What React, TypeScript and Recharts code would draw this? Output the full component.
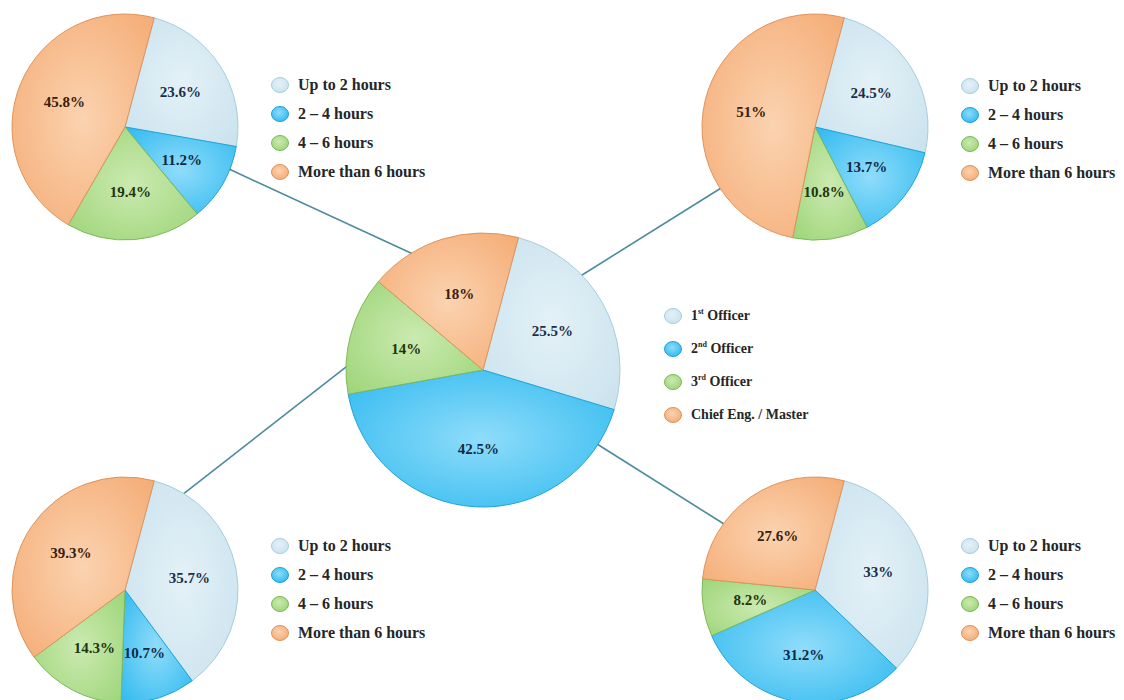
import { PieChart, Pie, Cell } from "recharts";

// categories
const hourCategories = ["Up to 2 hours", "2 – 4 hours", "4 – 6 hours", "More than 6 hours"];
const rankCategories = ["1st Officer", "2nd Officer", "3rd Officer", "Chief Eng. / Master"];

// values (%), same order as the categories
const centerValues = [25.5, 42.5, 14, 18];
const topLeftValues = [23.6, 11.2, 19.4, 45.8];
const topRightValues = [24.5, 13.7, 10.8, 51];
const bottomLeftValues = [35.7, 10.7, 14.3, 39.3];
const bottomRightValues = [33, 31.2, 8.2, 27.6];

const baseColors = ["#cbe3ee", "#36bcf0", "#a0d67c", "#f5ae79"];
const lightColors = ["#e4f1f7", "#8fdcfa", "#cbeab0", "#fbd3b0"];
const strokeColors = ["#a7cddf", "#1fa3d8", "#7cba58", "#df935a"];
const labelColors = ["#18304a", "#102a44", "#22340c", "#3a200c"];

const FONT = "'Liberation Serif', 'Times New Roman', serif";
const RAD = Math.PI / 180;

type PieDef = { id: string; values: number[]; cx: number; cy: number; r: number };

const pies: PieDef[] = [
  { id: "center", values: centerValues, cx: 483, cy: 370, r: 137 },
  { id: "tl", values: topLeftValues, cx: 125, cy: 127, r: 113 },
  { id: "tr", values: topRightValues, cx: 815, cy: 127, r: 113 },
  { id: "bl", values: bottomLeftValues, cx: 125, cy: 590, r: 113 },
  { id: "br", values: bottomRightValues, cx: 815, cy: 590, r: 113 },
];

// connector lines: angle on each circle, clockwise from 12 o'clock
const connectors = [
  { from: 1, a1: 112, a2: 329 },
  { from: 2, a1: 237, a2: 46 },
  { from: 3, a1: 31, a2: 272 },
  { from: 4, a1: 306, a2: 123 },
];

function onCircle(p: PieDef, deg: number, extra = 0) {
  const rr = p.r + extra;
  return { x: p.cx + rr * Math.sin(deg * RAD), y: p.cy - rr * Math.cos(deg * RAD) };
}

const renderLabel = (props: any) => {
  const { cx, cy, midAngle, outerRadius, index } = props;
  const value = props.value ?? props.payload?.value;
  const r = outerRadius * 0.58;
  const x = cx + r * Math.cos(-midAngle * RAD);
  const y = cy + r * Math.sin(-midAngle * RAD);
  return (
    <text
      x={x}
      y={y}
      textAnchor="middle"
      dominantBaseline="central"
      fill={labelColors[index]}
      fontFamily={FONT}
      fontWeight="bold"
      fontSize={15}
    >
      {value}%
    </text>
  );
};

function RankText({ text }: { text: string }) {
  const m = text.match(/^(\d)(st|nd|rd)(.*)$/);
  if (!m) return <>{text}</>;
  return (
    <>
      {m[1]}
      <sup style={{ fontSize: 8, verticalAlign: "top", position: "relative", top: -1 }}>{m[2]}</sup>
      {m[3]}
    </>
  );
}

function Legend({ x, y, gap, items, rank, size }: { x: number; y: number; gap: number; items: string[]; rank?: boolean; size: number }) {
  return (
    <div style={{ position: "absolute", left: x, top: y, fontFamily: FONT, fontWeight: "bold", fontSize: size, color: "#262626" }}>
      {items.map((item, i) => (
        <div key={item} style={{ position: "absolute", left: 0, top: i * gap, display: "flex", alignItems: "center", whiteSpace: "nowrap", height: 20 }}>
          <svg width={20} height={18} style={{ marginRight: 8 }}>
            <defs>
              <radialGradient id={`lg-${x}-${y}-${i}`} cx="45%" cy="40%" r="60%">
                <stop offset="0%" stopColor={lightColors[i]} />
                <stop offset="100%" stopColor={baseColors[i]} />
              </radialGradient>
            </defs>
            <ellipse cx={10} cy={9} rx={8.5} ry={7.5} fill={`url(#lg-${x}-${y}-${i})`} stroke={strokeColors[i]} strokeWidth={1} />
          </svg>
          <span>{rank ? <RankText text={item} /> : item}</span>
        </div>
      ))}
    </div>
  );
}

export default function App() {
  return (
    <div style={{ position: "absolute", left: 0, top: 0, width: 1124, height: 700, background: "#fff", overflow: "hidden" }}>
      <svg width={1124} height={700} style={{ position: "absolute", left: 0, top: 0 }}>
        {connectors.map((c, i) => {
          const p1 = onCircle(pies[c.from], c.a1, -2);
          const p2 = onCircle(pies[0], c.a2, -2);
          return <line key={i} x1={p1.x} y1={p1.y} x2={p2.x} y2={p2.y} stroke="#4d8b9c" strokeWidth={1.6} />;
        })}
      </svg>
      <PieChart width={1124} height={700} margin={{ top: 0, right: 0, bottom: 0, left: 0 }} style={{ position: "absolute", left: 0, top: 0 }}>
        <defs>
          {baseColors.map((c, i) => (
            <radialGradient key={i} id={`slice-${i}`} cx="50%" cy="50%" r="65%">
              <stop offset="0%" stopColor={lightColors[i]} />
              <stop offset="100%" stopColor={c} />
            </radialGradient>
          ))}
        </defs>
        {pies.map((p) => (
          <Pie
            key={p.id}
            data={p.values.map((v, i) => ({ name: hourCategories[i], value: v }))}
            dataKey="value"
            cx={p.cx}
            cy={p.cy}
            outerRadius={p.r}
            startAngle={75}
            endAngle={-285}
            label={renderLabel}
            labelLine={false}
            isAnimationActive={false}
          >
            {p.values.map((_, i) => (
              <Cell key={i} fill={`url(#slice-${i})`} stroke={strokeColors[i]} strokeWidth={1} />
            ))}
          </Pie>
        ))}
      </PieChart>
      <Legend x={270} y={75} gap={29} items={hourCategories} size={16} />
      <Legend x={960} y={76} gap={29} items={hourCategories} size={16} />
      <Legend x={663} y={306} gap={33} items={rankCategories} rank size={14} />
      <Legend x={270} y={536} gap={29} items={hourCategories} size={16} />
      <Legend x={960} y={536} gap={29} items={hourCategories} size={16} />
    </div>
  );
}
